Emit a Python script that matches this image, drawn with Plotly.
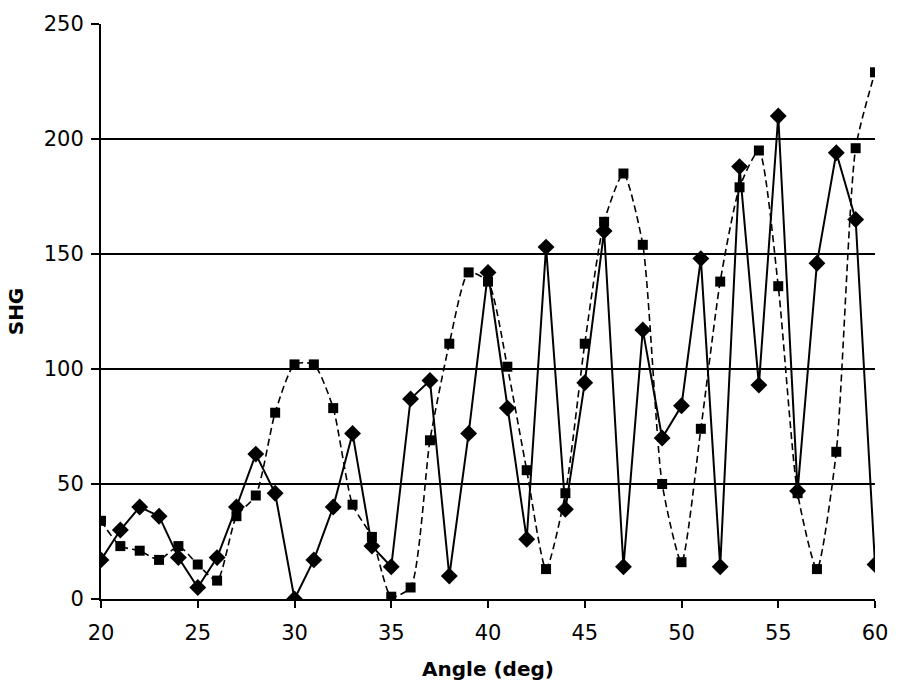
import plotly.graph_objects as go

angle = list(range(20, 61))
shg_diamond = [17, 30, 40, 36, 18, 5, 18, 40, 63, 46,
               0, 17, 40, 72, 23, 14, 87, 95, 10, 72,
               142, 83, 26, 153, 39, 94, 160, 14, 117, 70,
               84, 148, 14, 188, 93, 210, 47, 146, 194, 165, 15]
shg_square = [34, 23, 21, 17, 23, 15, 8, 36, 45, 81,
              102, 102, 83, 41, 27, 1, 5, 69, 111, 142,
              138, 101, 56, 13, 46, 111, 164, 185, 154, 50,
              16, 74, 138, 179, 195, 136, 46, 13, 64, 196, 229]

x_ticks = [20, 25, 30, 35, 40, 45, 50, 55, 60]
y_ticks = [0, 50, 100, 150, 200, 250]

fig = go.Figure()
fig.add_trace(go.Scatter(
    x=angle, y=shg_square, mode="lines+markers",
    line=dict(color="black", width=1.6, dash="7px,4px", shape="spline", smoothing=0.6),
    marker=dict(symbol="square", size=10, color="black"),
    showlegend=False))
fig.add_trace(go.Scatter(
    x=angle, y=shg_diamond, mode="lines+markers",
    line=dict(color="black", width=2),
    marker=dict(symbol="diamond", size=13, color="black"),
    showlegend=False))

font_family = "DejaVu Sans, Arial, sans-serif"
fig.update_layout(
    width=900, height=689,
    margin=dict(l=101, r=19, t=18, b=89),
    paper_bgcolor="white", plot_bgcolor="white",
    font=dict(family=font_family, color="black", size=21),
    xaxis=dict(
        range=[20, 60], tickvals=x_ticks, showgrid=False, zeroline=False,
        showline=True, linecolor="black", linewidth=2,
        ticks="outside", ticklen=7, tickwidth=1.5, tickcolor="black",
        tickfont=dict(size=21), ticklabelstandoff=7,
        title=dict(text="<b>Angle (deg)</b>", font=dict(size=20), standoff=18)),
    yaxis=dict(
        range=[0, 250], tickvals=y_ticks, showgrid=True, gridcolor="black",
        gridwidth=2, zeroline=False,
        showline=True, linecolor="black", linewidth=2,
        ticks="outside", ticklen=8, tickwidth=1.5, tickcolor="black",
        tickfont=dict(size=21), ticklabelstandoff=3,
        title=dict(text="<b>SHG</b>", font=dict(size=20), standoff=15)),
)

fig.write_html("out.html")
